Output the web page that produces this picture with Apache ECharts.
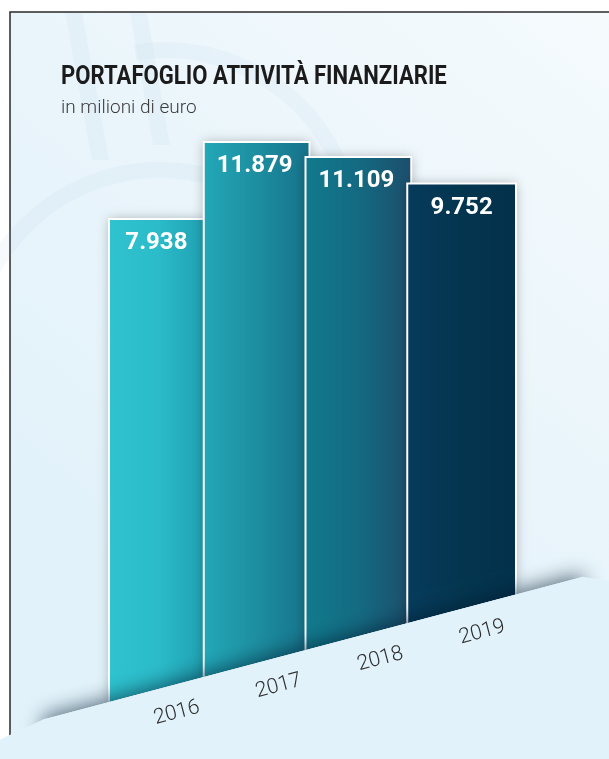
<!DOCTYPE html>
<html>
<head>
<meta charset="utf-8">
<script src="https://cdn.jsdelivr.net/npm/echarts@6/dist/echarts.min.js"></script>
<style>
html, body { margin: 0; padding: 0; background: #fff; }
#chart { width: 609px; height: 759px; }
</style>
</head>
<body>
<div id="chart"></div>
<script>
// dati
const years = ['2016', '2017', '2018', '2019']
const values = [7938, 11879, 11109, 9752]

// colori delle barre (sinistra -> destra)
const barColors = [
    ['#2fc3cf', '#2bbbc9', '#1f9fb0'],
    ['#22a8b7', '#1d8ea0', '#16728a'],
    ['#117a8c', '#146a82', '#1c4e6b'],
    ['#063b5b', '#04354f', '#03304a']
]
const FLOOR = '#e1f2fa'
const WATERMARK = 'rgba(150,195,220,0.08)'

// linea del "pavimento" inclinata
const GROUND_X0 = 109
const GROUND_Y0 = 702
const SLOPE = Math.tan(14.8 * Math.PI / 180)
const OVERLAP = 7
function groundY(x) {
    return GROUND_Y0 - SLOPE * (x - GROUND_X0)
}
function fmt(v) {
    return String(v).replace(/\B(?=(\d{3})+(?!\d))/g, '.')
}

const myChart = echarts.init(document.getElementById('chart'))

const option = {
    animation: false,
    grid: {
        left: 109,
        right: 93,
        top: 139.64,
        height: 234.5
    },
    xAxis: {
        type: 'category',
        data: years,
        show: false
    },
    yAxis: {
        type: 'value',
        min: 0,
        max: 12000,
        show: false
    },
    graphic: [
        {
            type: 'rect',
            z: -10,
            shape: { x: 10, y: 12, width: 640, height: 790 },
            style: {
                fill: new echarts.graphic.LinearGradient(1, 0, 0, 1, [
                    { offset: 0, color: '#f6fbfd' },
                    { offset: 0.4, color: '#eaf5fb' },
                    { offset: 0.75, color: '#e2f2fa' },
                    { offset: 1, color: FLOOR }
                ]),
                stroke: '#2a2a2a',
                lineWidth: 1.5
            }
        },
        // filigrana del logo, molto tenue
        {
            type: 'polygon',
            z: -9,
            shape: { points: [[65, 13], [82, 13], [109, 160], [92, 160]] },
            style: { fill: WATERMARK }
        },
        {
            type: 'polygon',
            z: -9,
            shape: { points: [[130, 13], [147, 13], [170, 145], [153, 145]] },
            style: { fill: WATERMARK }
        },
        {
            type: 'arc',
            z: -9,
            shape: { cx: 160, cy: 360, r: 190, startAngle: Math.PI * 1.05, endAngle: Math.PI * 1.6 },
            style: { stroke: WATERMARK, lineWidth: 16, fill: null }
        },
        {
            type: 'arc',
            z: -9,
            shape: { cx: 165, cy: 240, r: 190, startAngle: Math.PI * 1.45, endAngle: Math.PI * 1.95 },
            style: { stroke: WATERMARK, lineWidth: 16, fill: null }
        },
        {
            type: 'text',
            x: 61,
            y: 77,
            scaleX: 0.85,
            style: {
                text: 'PORTAFOGLIO ATTIVITÀ FINANZIARIE',
                font: 'bold 26px Roboto',
                fill: '#1b1b1b',
                verticalAlign: 'middle'
            }
        },
        {
            type: 'text',
            x: 61,
            y: 108,
            style: {
                text: 'in milioni di euro',
                font: '300 19px Roboto',
                fill: '#3a3a3a',
                verticalAlign: 'middle'
            }
        }
    ],
    series: [
        {
            type: 'custom',
            z: 2,
            encode: { x: 0, y: 1 },
            data: values.map((v, i) => [i, v]),
            renderItem: function (params, api) {
                const i = params.dataIndex
                const top = api.coord([i, api.value(1)])
                const band = api.size([1, 0])[0]
                const x0 = top[0] - band / 2 - (i > 0 ? OVERLAP : 0)
                const x1 = top[0] + band / 2 - (i < values.length - 1 ? 3 : 0)
                const visRight = i < values.length - 1 ? x1 + 3 - OVERLAP : x1
                const c = barColors[i]
                return {
                    type: 'group',
                    children: [
                        {
                            type: 'polygon',
                            shape: {
                                points: [[x0, top[1]], [x1, top[1]], [x1, groundY(x1)], [x0, groundY(x0)]]
                            },
                            style: {
                                fill: new echarts.graphic.LinearGradient(0, 0, 1, 0, [
                                    { offset: 0, color: c[0] },
                                    { offset: 0.5, color: c[1] },
                                    { offset: 1, color: c[2] }
                                ]),
                                shadowBlur: 12,
                                shadowColor: 'rgba(0,0,0,0.28)'
                            }
                        },
                        {
                            type: 'polyline',
                            shape: {
                                points: [[x0, groundY(x0)], [x0, top[1]], [x1, top[1]], [x1, groundY(x1)]]
                            },
                            style: { stroke: '#ffffff', lineWidth: 2, fill: null }
                        },
                        {
                            type: 'text',
                            x: (x0 + visRight) / 2,
                            y: top[1] + 24,
                            style: {
                                text: fmt(values[i]),
                                font: 'bold 24px Roboto',
                                fill: '#ffffff',
                                align: 'center',
                                verticalAlign: 'middle'
                            }
                        }
                    ]
                }
            }
        },
        {
            // pavimento: striscia con ombra + copertura senza ombra
            type: 'custom',
            z: 3,
            encode: { x: 0, y: 1 },
            data: [[0, 0]],
            renderItem: function (params, api) {
                const xl = 43
                const xr = 583
                return {
                    type: 'group',
                    children: [
                        {
                            type: 'polygon',
                            shape: {
                                points: [[xl, groundY(xl)], [xr, groundY(xr)], [xr, groundY(xr) + 30], [xl, groundY(xl) + 30]]
                            },
                            style: {
                                fill: FLOOR,
                                shadowBlur: 20,
                                shadowOffsetY: -3,
                                shadowColor: 'rgba(0,25,45,0.62)'
                            }
                        },
                        {
                            type: 'polygon',
                            shape: {
                                points: [[xl, groundY(xl)], [xr, groundY(xr)], [620, groundY(xr) + 6], [620, 800], [0, 800], [0, groundY(xl) + 20]]
                            },
                            style: { fill: FLOOR }
                        }
                    ]
                }
            }
        },
        {
            // etichette anni
            type: 'custom',
            z: 4,
            encode: { x: 0, y: 1 },
            data: values.map((v, i) => [i, v]),
            renderItem: function (params, api) {
                const i = params.dataIndex
                const p = api.coord([i, api.value(1)])
                const x = p[0] + 17
                return {
                    type: 'text',
                    x: x,
                    y: groundY(x) + 29,
                    rotation: Math.atan(SLOPE),
                    style: {
                        text: years[i],
                        font: '300 21px Roboto',
                        fill: '#2e2e2e',
                        align: 'center',
                        verticalAlign: 'middle'
                    }
                }
            }
        }
    ]
}

option && myChart.setOption(option)
</script>
</body>
</html>
